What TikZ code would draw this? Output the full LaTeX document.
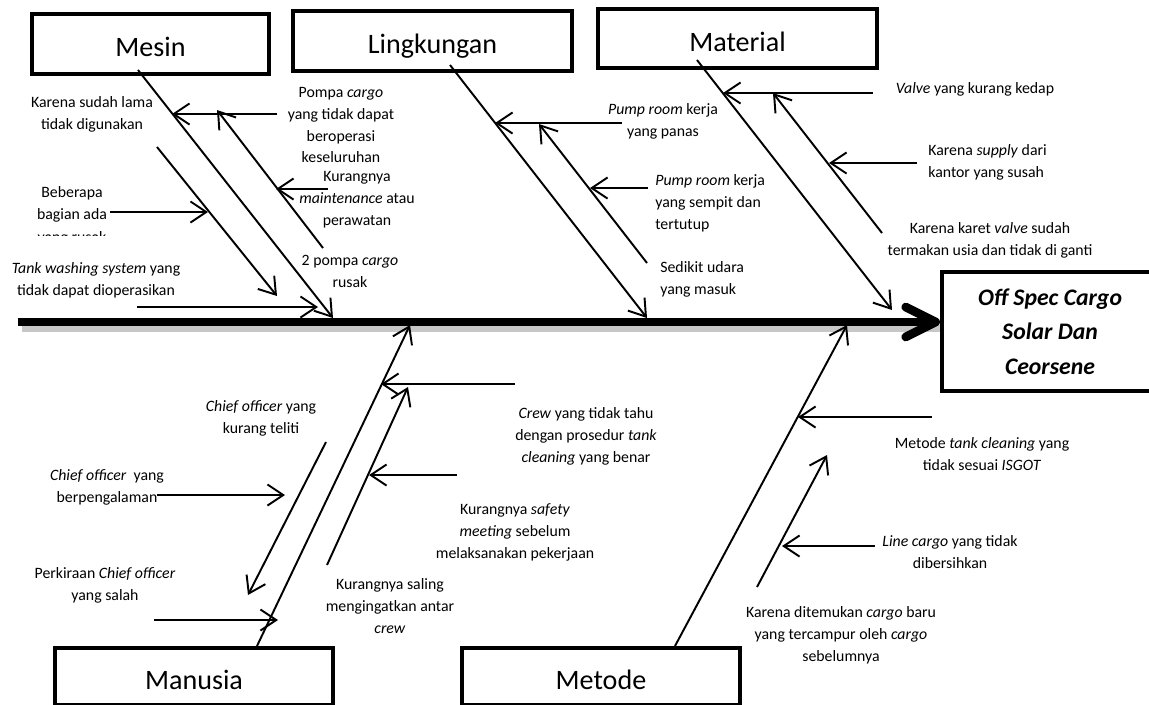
\documentclass[tikz,border=0pt]{standalone}
\usepackage{fontspec}
\setmainfont{Carlito}
\usetikzlibrary{arrows.meta}

\begin{document}
\begin{tikzpicture}[
        x=0.02cm, y=-0.02cm,
        box/.style={draw, line width=1.8pt, inner sep=0pt, text height=18pt, text depth=3.7pt,
                    font=\fontsize{16}{19}\selectfont},
        txt/.style={align=center, inner sep=0pt, font=\fontsize{9}{12.5}\selectfont},
        cause/.style={line width=1.1pt, -{Straight Barb[length=9pt,width=12pt]}},
        spine/.style={line width=5pt, -{Straight Barb[length=17pt,width=17pt,round]}}]

      \useasboundingbox (0,0) rectangle (1149,704);

      % boxes
      \node[box, minimum width=4.74cm, minimum height=1.2cm] (mesin) at (150.5,44) {Mesin};
      \node[box, minimum width=5.58cm, minimum height=1.2cm] (lingk) at (432.5,41) {Lingkungan};
      \node[box, minimum width=5.58cm, minimum height=1.18cm] (material) at (737.5,38.5) {Material};
      \node[box, minimum width=5.56cm, minimum height=1.14cm] (manusia) at (194,676.5) {Manusia};
      \node[box, minimum width=5.56cm, minimum height=1.14cm] (metode) at (601,676.5) {Metode};
      \node[box, minimum width=4.32cm, minimum height=2.38cm, align=center, text height=, text depth=,
            font=\fontsize{13.5}{19.5}\selectfont\bfseries\itshape] (offspec) at (1050,331.5)
            {Off Spec Cargo\\Solar Dan\\Ceorsene};

      % spine
      \coordinate (s1) at (18,322);
      \coordinate (s2) at (940,322);
      \draw[line width=4pt, black!22] ([xshift=2pt,yshift=-3.5pt]s1) -- ([yshift=-3.5pt]s2);
      \draw[spine] (s1) -- (s2);

      % mesin
      \coordinate (m1) at (138,70);  \coordinate (m2) at (333,318);
      \coordinate (m3) at (323,248); \coordinate (m4) at (217,110);
      \coordinate (m5) at (157,147); \coordinate (m6) at (277,296);
      \coordinate (ma1) at (277,114); \coordinate (ma2) at (172,114);
      \coordinate (mb1) at (328,189); \coordinate (mb2) at (276,189);
      \coordinate (mc1) at (110,212); \coordinate (mc2) at (208,212);
      \coordinate (md1) at (137,307); \coordinate (md2) at (318,307);

      % lingkungan
      \coordinate (l1) at (450,65);  \coordinate (l2) at (647,318);
      \coordinate (l3) at (647,263); \coordinate (l4) at (539,124);
      \coordinate (la1) at (622,123); \coordinate (la2) at (495,123);
      \coordinate (lb1) at (648,188); \coordinate (lb2) at (590,188);

      % material
      \coordinate (t1) at (697,60);  \coordinate (t2) at (892,310);
      \coordinate (t3) at (882,233); \coordinate (t4) at (773,93);
      \coordinate (ta1) at (873,93);  \coordinate (ta2) at (723,93);
      \coordinate (tb1) at (917,163); \coordinate (tb2) at (829,163);

      % manusia
      \coordinate (h1) at (257,646); \coordinate (h2) at (410,325);
      \coordinate (h3) at (327,565); \coordinate (h4) at (408,387);
      \coordinate (h5) at (326,442); \coordinate (h6) at (248,595);
      \coordinate (ha1) at (515,384); \coordinate (ha2) at (381,384);
      \coordinate (hb1) at (457,475); \coordinate (hb2) at (369,475);
      \coordinate (hc1) at (157,495); \coordinate (hc2) at (285,495);
      \coordinate (hd1) at (154,620); \coordinate (hd2) at (278,620);

      % metode
      \coordinate (d1) at (675,646); \coordinate (d2) at (847,325);
      \coordinate (d3) at (757,587); \coordinate (d4) at (827,455);
      \coordinate (da1) at (932,417); \coordinate (da2) at (798,417);
      \coordinate (db1) at (875,546); \coordinate (db2) at (782,546);

      \foreach \b/\t in {m1/m2, l1/l2, t1/t2, h1/h2, d1/d2}
        \draw[cause] (\b) -- (\t);
      \foreach \b/\t in {m3/m4, m5/m6, l3/l4, t3/t4, h3/h4, h5/h6, d3/d4}
        \draw[cause] (\b) -- (\t);
      \foreach \b/\t in {ma1/ma2, mb1/mb2, mc1/mc2, md1/md2, la1/la2, lb1/lb2, ta1/ta2, tb1/tb2}
        \draw[cause] (\b) -- (\t);
      \foreach \b/\t in {ha1/ha2, hb1/hb2, hc1/hc2, hd1/hd2, da1/da2, db1/db2}
        \draw[cause] (\b) -- (\t);

      % labels
      \node[txt] (sudah) at (92,114) {Karena sudah lama\\tidak digunakan};
      \node[txt] (pompa) at (341,125) {Pompa \emph{cargo}\\yang tidak dapat\\beroperasi\\keseluruhan};
      \node[txt] (maint) at (357,200) {Kurangnya\\\emph{maintenance} atau\\perawatan};
      \node[txt] (bagian) at (72,204) {Beberapa\\bagian ada};
      \begin{scope}
        \clip (0,224) rectangle (150,235.5);
        \node[txt] (rusak) at (72,238) {yang rusak};
      \end{scope}
      \node[txt] (tank) at (96,280) {\emph{Tank washing system} yang\\tidak dapat dioperasikan};
      \node[txt] (pompa2) at (350,271) {2 pompa \emph{cargo}\\rusak};

      \node[txt] (panas) at (663,121) {\emph{Pump room} kerja\\yang panas};
      \node[txt, align=left, anchor=west] (sempit) at (655,203) {\emph{Pump room} kerja\\yang sempit dan\\tertutup};
      \node[txt, align=left, anchor=west] (udara) at (660,279) {Sedikit udara\\yang masuk};

      \node[txt] (valve) at (975,89) {\emph{Valve} yang kurang kedap};
      \node[txt, align=left, anchor=west] (supply) at (928,162) {Karena \emph{supply} dari\\kantor yang susah};
      \node[txt] (karet) at (990,240) {Karena karet \emph{valve} sudah\\termakan usia dan tidak di ganti};

      \node[txt] (teliti) at (261,418) {\emph{Chief officer} yang\\kurang teliti};
      \node[txt] (pengalaman) at (107,487) {\emph{Chief officer}\ \ yang\\berpengalaman};
      \node[txt] (perkiraan) at (105,585) {Perkiraan \emph{Chief officer}\\yang salah};
      \node[txt] (saling) at (390,606) {Kurangnya saling\\mengingatkan antar\\\emph{crew}};
      \node[txt] (tahu) at (586,436) {\emph{Crew} yang tidak tahu\\dengan prosedur \emph{tank}\\\emph{cleaning} yang benar};
      \node[txt] (safety) at (515,532) {Kurangnya \emph{safety}\\\emph{meeting} sebelum\\melaksanakan pekerjaan};

      \node[txt] (isgot) at (982,454) {Metode \emph{tank cleaning} yang\\tidak sesuai \emph{ISGOT}};
      \node[txt] (linecargo) at (950,552) {\emph{Line cargo} yang tidak\\dibersihkan};
      \node[txt] (ditemukan) at (841,635) {Karena ditemukan \emph{cargo} baru\\yang tercampur oleh \emph{cargo}\\sebelumnya};

    \end{tikzpicture}
\end{document}
